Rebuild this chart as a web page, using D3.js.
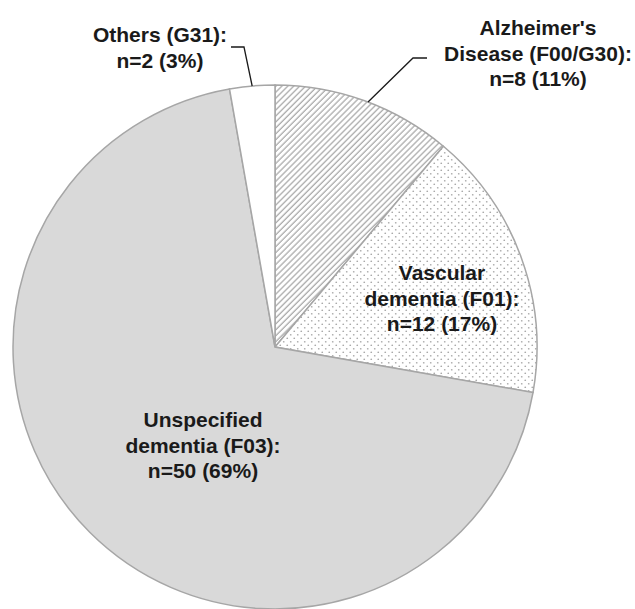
<!DOCTYPE html>
<html>
<head>
<meta charset="utf-8">
<script src="https://cdn.jsdelivr.net/npm/d3@7"></script>
<style>
  html, body { margin: 0; padding: 0; background: #fff; }
  svg text { font-family: "Liberation Sans", Arial, sans-serif; font-weight: bold; fill: #1a1a1a; }
</style>
</head>
<body>
<svg id="chart" width="635" height="609"></svg>
<script>
// data
var categories = ["Alzheimer's Disease (F00/G30)", "Vascular dementia (F01)", "Unspecified dementia (F03)", "Others (G31)"];
var counts = [8, 12, 50, 2];
var percents = [11, 17, 69, 3];
var labelLines = [
  ["Alzheimer's", "Disease (F00/G30):", "n=8 (11%)"],
  ["Vascular", "dementia (F01):", "n=12 (17%)"],
  ["Unspecified", "dementia (F03):", "n=50 (69%)"],
  ["Others (G31):", "n=2 (3%)"]
];

var cx = 275, cy = 347, radius = 262,
    lineH = 25.5;

var svg = d3.select("#chart");
var defs = svg.append("defs");

// diagonal hatch for Alzheimer's
var hatch = defs.append("pattern")
    .attr("id", "hatch")
    .attr("patternUnits", "userSpaceOnUse")
    .attr("width", 4.2).attr("height", 4.2)
    .attr("patternTransform", "rotate(45)");
hatch.append("rect").attr("width", 4.2).attr("height", 4.2).attr("fill", "#fff");
hatch.append("line")
    .attr("x1", 1).attr("y1", 0).attr("x2", 1).attr("y2", 4.2)
    .attr("stroke", "#ababab").attr("stroke-width", 1.3);

// dots for vascular
var dots = defs.append("pattern")
    .attr("id", "dots")
    .attr("patternUnits", "userSpaceOnUse")
    .attr("width", 7).attr("height", 7);
dots.append("rect").attr("width", 7).attr("height", 7).attr("fill", "#fff");
dots.append("circle").attr("cx", 1.75).attr("cy", 1.75).attr("r", 0.85).attr("fill", "#a8a8a8");
dots.append("circle").attr("cx", 5.25).attr("cy", 5.25).attr("r", 0.85).attr("fill", "#a8a8a8");

var fills = ["url(#hatch)", "url(#dots)", "#d9d9d9", "#ffffff"];

var pie = d3.pie().sort(null).value(function(d) { return d; });
var arc = d3.arc().innerRadius(0).outerRadius(radius);
var arcs = pie(counts);

var g = svg.append("g").attr("transform", "translate(" + cx + "," + cy + ")");

g.selectAll("path.slice")
  .data(arcs)
  .enter()
  .append("path")
  .attr("class", "slice")
  .attr("d", arc)
  .attr("fill", function(d, i) { return fills[i]; })
  .attr("stroke", "#a6a6a6")
  .attr("stroke-width", 1.5);

// label placement (centre x, first baseline y), Excel-like
var labelPos = [
  {x: 538, y: 35},
  {x: 442, y: 280},
  {x: 203, y: 427},
  {x: 160, y: 42}
];

// leader lines for the two outside labels: from slice edge to an elbow
var leaders = [
  {i: 0, frac: 0.52, elbow: [413, 58], end: [427, 58]},
  {i: 3, frac: 0.5, elbow: [244, 47], end: [231, 47]}
];
leaders.forEach(function(l) {
  var a = arcs[l.i];
  var ang = a.startAngle + (a.endAngle - a.startAngle) * l.frac;
  var p = [cx + radius * Math.sin(ang), cy - radius * Math.cos(ang)];
  svg.append("path")
    .attr("d", d3.line()([p, l.elbow, l.end]))
    .attr("fill", "none")
    .attr("stroke", "#1a1a1a")
    .attr("stroke-width", 1.3);
});

labelLines.forEach(function(lines, i) {
  var t = svg.append("text")
    .attr("text-anchor", "middle")
    .style("font-size", "21px");
  lines.forEach(function(s, j) {
    t.append("tspan")
      .attr("x", labelPos[i].x)
      .attr("y", labelPos[i].y + j * lineH)
      .text(s);
  });
});
</script>
</body>
</html>
